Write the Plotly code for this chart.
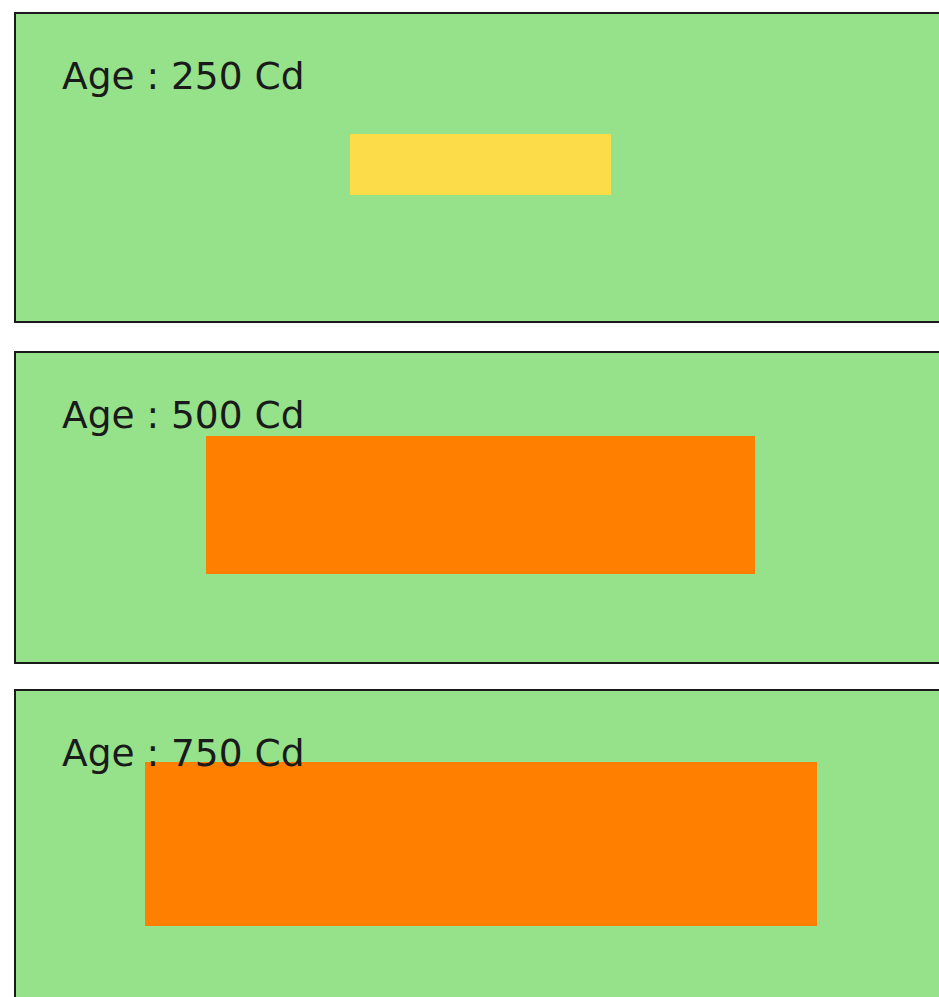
import plotly.graph_objects as go

# Données : un panneau par âge
ages = [250, 500, 750]
largeurs = [261, 549, 672]
hauteurs = [61, 138, 164]
couleurs = ["#fddc4a", "#ff8000", "#ff8000"]

VERT = "#95e28a"
ENCRE = "#1a1a1a"
W, H = 939, 997

# position des panneaux en pixels (haut, bas, centre du rectangle depuis le haut)
panneaux = [(13, 322, 151.5), (352, 663, 153), (690, 997, 153.5)]
X0, CX = 15, 480.5

fig = go.Figure()
for i, (age, l, h, c) in enumerate(zip(ages, largeurs, hauteurs, couleurs)):
    n = "" if i == 0 else str(i + 1)
    haut, bas, cy = panneaux[i]
    fig.add_trace(go.Bar(
        x=[0], y=[h], base=[-h / 2], width=[l],
        marker=dict(color=c, line=dict(width=0)),
        xaxis="x" + n, yaxis="y" + n, showlegend=False, hoverinfo="skip",
    ))
    fig.update_layout({
        "xaxis" + n: dict(domain=[X0 / W, 1], range=[-(CX - X0), W - CX],
                          visible=False, fixedrange=True),
        "yaxis" + n: dict(domain=[1 - bas / H, 1 - haut / H],
                          range=[-(bas - haut - cy), cy],
                          visible=False, fixedrange=True),
    })
    ref = "x" + n + " domain"
    fig.add_shape(type="rect", xref=ref, yref="y" + n + " domain",
                  x0=0, x1=1.2, y0=-0.2 if i == 2 else 0, y1=1,
                  line=dict(color=ENCRE, width=2), fillcolor="rgba(0,0,0,0)",
                  layer="above")
    fig.add_annotation(xref=ref, yref="y" + n + " domain",
                       x=45 / (W - X0), y=1 - 63 / (bas - haut),
                       xanchor="left", yanchor="middle", showarrow=False,
                       text=f"Age : {age} Cd",
                       font=dict(family="DejaVu Sans", size=37.5, color=ENCRE))

fig.update_layout(
    width=W, height=H,
    margin=dict(l=0, r=0, t=0, b=0),
    paper_bgcolor="white", plot_bgcolor=VERT,
    bargap=0,
)

# supprime la marge par défaut du <body> pour caler la figure sur la fenêtre
fig.write_html("out.html", config={"displayModeBar": False},
               post_script="document.body.style.margin='0';"
                           "document.body.style.overflow='hidden';")
